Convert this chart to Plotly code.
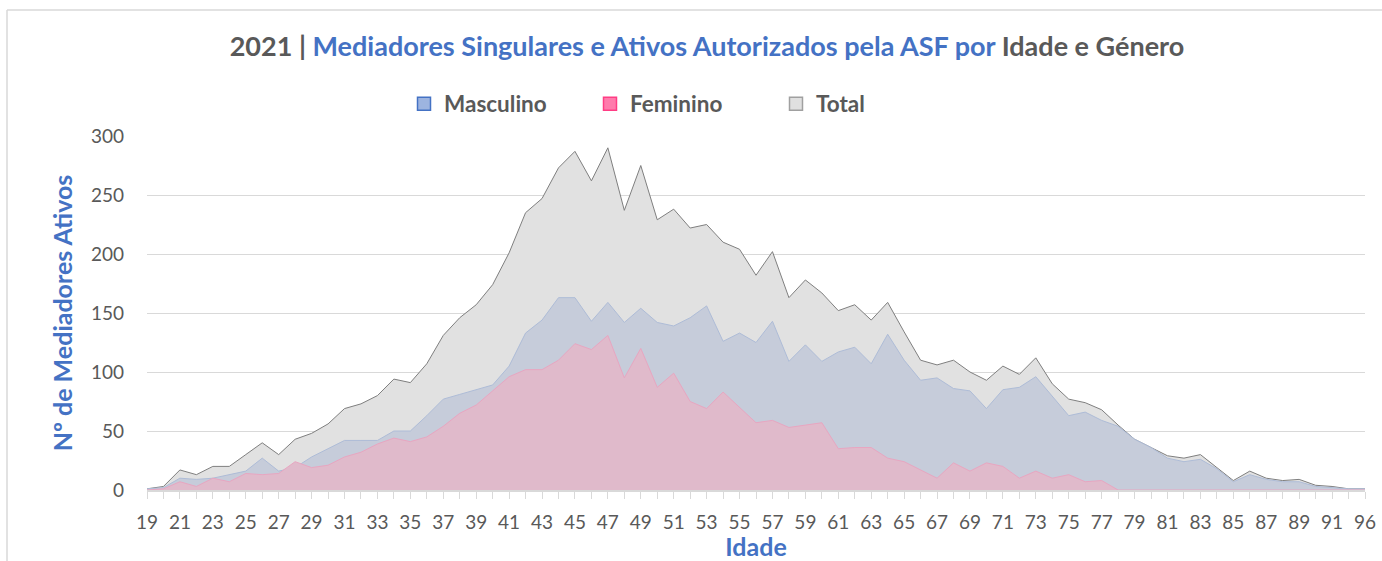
import plotly.graph_objects as go

ages = [str(a) for a in range(19, 93)] + ["96"]

total = [1, 3, 17, 13, 20, 20, 30, 40, 30, 43, 48, 56, 69, 73, 80, 94, 91, 107, 131, 146,
         157, 174, 201, 235, 247, 273, 287, 262, 290, 237, 275, 229, 238, 222, 225, 210, 204, 182, 202, 163,
         178, 167, 152, 157, 144, 159, 134, 110, 106, 110, 100, 93, 105, 98, 112, 90, 77, 74, 68, 55,
         43, 36, 29, 27, 30, 19, 8, 16, 10, 8, 9, 4, 3, 1, 1]

masculino = [1, 2, 10, 9, 10, 13, 16, 27, 16, 19, 28, 35, 42, 42, 42, 50, 50, 63, 77, 81,
             85, 89, 105, 133, 144, 163, 163, 143, 159, 142, 154, 142, 139, 146, 156, 126, 133, 125, 143, 109,
             123, 109, 117, 121, 107, 132, 110, 93, 95, 86, 84, 69, 85, 87, 96, 79, 63, 66, 59, 54,
             43, 36, 27, 24, 26, 18, 7, 13, 9, 7, 7, 3, 2, 1, 1]

feminino = [0, 1, 7, 3, 10, 7, 14, 13, 14, 24, 19, 21, 28, 32, 39, 44, 41, 45, 54, 65,
            72, 84, 96, 102, 102, 110, 124, 119, 131, 95, 120, 87, 99, 75, 69, 83, 70, 57, 59, 53,
            55, 57, 35, 36, 36, 27, 24, 17, 10, 23, 16, 23, 20, 10, 16, 10, 13, 7, 8, 0,
            0, 0, 0, 0, 0, 0, 0, 0, 0, 0, 0, 0, 0, 0, 0]

tick_text = [a if i % 2 == 0 else "" for i, a in enumerate(ages)]

FONT = "Lato"
BLUE = "#4472C4"
GREY = "#595959"

fig = go.Figure()

fig.add_trace(go.Scatter(x=ages, y=total, mode="lines", fill="tozeroy",
                         fillcolor="#E1E1E1", line=dict(color="#7F7F7F", width=1),
                         showlegend=False, name="Total"))
fig.add_trace(go.Scatter(x=ages, y=masculino, mode="lines", fill="tozeroy",
                         fillcolor="#C6CCDA", line=dict(color="#AEBCD7", width=1),
                         showlegend=False, name="Masculino"))
fig.add_trace(go.Scatter(x=ages, y=feminino, mode="lines", fill="tozeroy",
                         fillcolor="#E0BACB", line=dict(color="#E8A6C1", width=1),
                         showlegend=False, name="Feminino"))

# legend entries
for name, fc, lc in [("Masculino", "#9DB4E0", "#4472C4"),
                     ("Feminino", "#FF7BAC", "#FF3D84"),
                     ("Total", "#E0E0E0", "#A0A0A0")]:
    fig.add_trace(go.Scatter(x=[None], y=[None], mode="markers", name=name,
                             marker=dict(symbol="square", size=13, color=fc,
                                         line=dict(color=lc, width=1.5))))

fig.update_layout(
    width=1382, height=561,
    paper_bgcolor="white", plot_bgcolor="white",
    margin=dict(l=147, r=17, t=136, b=71, autoexpand=False),
    title=dict(
        text=("<b><span style='color:#595959'>2021 | </span>"
              "<span style='color:#4472C4'>Mediadores Singulares e Ativos Autorizados pela ASF por</span>"
              "<span style='color:#595959'> Idade e Género</span></b>"),
        font=dict(family=FONT, size=27),
        xref="container", x=707 / 1382, xanchor="center",
        yref="container", y=1 - 47 / 561, yanchor="middle"),
    legend=dict(orientation="h", xref="container", yref="container",
                x=404 / 1382, xanchor="left", y=1 - 104 / 561, yanchor="middle",
                font=dict(family=FONT, size=22.5, color=GREY, weight="bold"),
                entrywidth=141, itemclick=False),
    xaxis=dict(type="category", range=[0, len(ages) - 1],
               tickmode="array", tickvals=ages, ticktext=tick_text,
               ticks="outside", ticklen=7, tickcolor="#D9D9D9", tickwidth=1,
               showline=True, linecolor="#D9D9D9", linewidth=1.5,
               showgrid=False, zeroline=False, ticklabelstandoff=7,
               tickfont=dict(family=FONT, size=19, color=GREY),
               title=dict(text="<b>Idade</b>", font=dict(family=FONT, size=25, color=BLUE),
                          standoff=4)),
    yaxis=dict(range=[0, 300], tickvals=[0, 50, 100, 150, 200, 250, 300],
               showgrid=True, gridcolor="#D9D9D9", gridwidth=1.3,
               zeroline=False, showline=False, ticks="",
               ticklabelstandoff=22,
               tickfont=dict(family=FONT, size=19, color=GREY),
               title=dict(text="<b>Nº de Mediadores Ativos</b>",
                          font=dict(family=FONT, size=25, color=BLUE), standoff=11)),
    shapes=[
        dict(type="line", xref="paper", yref="paper",
             x0=(7 - 147) / 1218, x1=(1382 - 147) / 1218,
             y0=(490 - 10) / 354, y1=(490 - 10) / 354,
             line=dict(color="#D9D9D9", width=1.5)),
        dict(type="line", xref="paper", yref="paper",
             x0=(7 - 147) / 1218, x1=(7 - 147) / 1218,
             y0=(490 - 10) / 354, y1=(490 - 565) / 354,
             line=dict(color="#D9D9D9", width=1.5)),
    ],
)

fig.write_html("out.html", config={"displayModeBar": False},
               post_script="document.body.style.margin='0px';")
